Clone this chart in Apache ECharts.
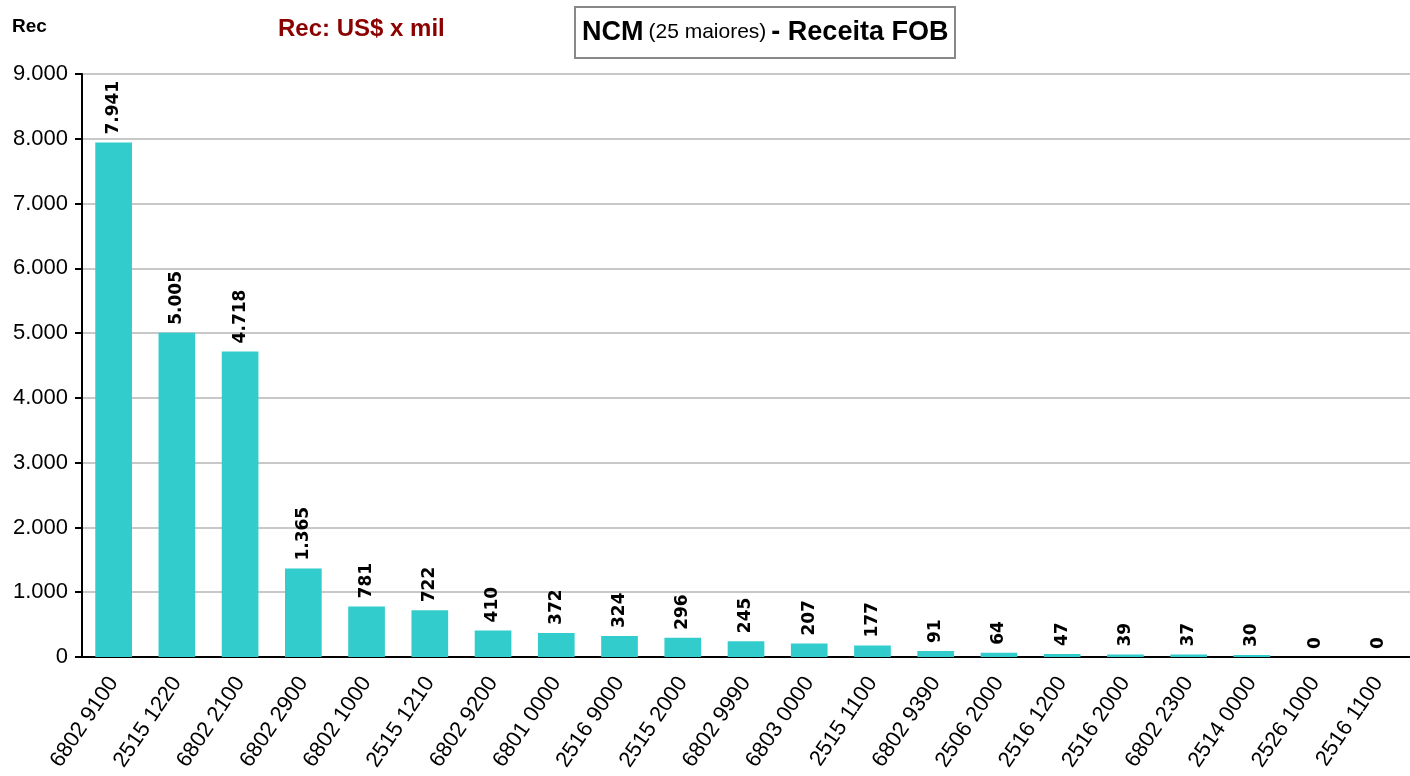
<!DOCTYPE html>
<html>
<head>
<meta charset="utf-8">
<script src="https://cdn.jsdelivr.net/npm/echarts@6/dist/echarts.min.js"></script>
<style>
  html, body { margin: 0; padding: 0; background: #fff; }
  #chart { width: 1410px; height: 776px; }
</style>
</head>
<body>
<div id="chart"></div>
<script>
// codigos NCM e receita (US$ x mil)
const categorias = ['6802 9100', '2515 1220', '6802 2100', '6802 2900', '6802 1000', '2515 1210',
  '6802 9200', '6801 0000', '2516 9000', '2515 2000', '6802 9990', '6803 0000', '2515 1100',
  '6802 9390', '2506 2000', '2516 1200', '2516 2000', '6802 2300', '2514 0000', '2526 1000', '2516 1100']
const receita = [7941, 5005, 4718, 1365, 781, 722, 410, 372, 324, 296, 245, 207, 177, 91, 64, 47, 39, 37, 30, 0, 0]
const yTicks = [0, 1000, 2000, 3000, 4000, 5000, 6000, 7000, 8000, 9000]

// formato brasileiro: 7941 -> 7.941
const fmt = v => String(v).replace(/\B(?=(\d{3})+(?!\d))/g, '.')

const chart = echarts.init(document.getElementById('chart'))

const option = {
  animation: false,
  backgroundColor: '#fff',
  textStyle: { fontFamily: 'Liberation Sans' },
  title: {
    text: '{b|NCM} {n|(25 maiores)} {b|- Receita FOB}',
    left: 575,
    top: 7,
    borderColor: '#888',
    borderWidth: 2,
    padding: [12, 7, 12, 7],
    textStyle: {
      rich: {
        b: { fontSize: 27, fontWeight: 'bold', color: '#000', fontFamily: 'Liberation Sans' },
        n: { fontSize: 21, fontWeight: 'normal', color: '#000', fontFamily: 'Liberation Sans' }
      }
    }
  },
  graphic: [
    {
      type: 'text', left: 12, top: 17,
      style: { text: 'Rec', fontSize: 19, fontWeight: 'bold', fontFamily: 'Liberation Sans', fill: '#000' }
    },
    {
      type: 'text', left: 278, top: 17,
      style: { text: 'Rec: US$ x mil', fontSize: 24, fontWeight: 'bold', fontFamily: 'Liberation Sans', fill: '#8B0000' }
    }
  ],
  grid: { left: 82, right: 0, top: 74, bottom: 119 },
  xAxis: {
    type: 'category',
    data: categorias,
    axisLine: { lineStyle: { color: '#000', width: 2 } },
    axisTick: { length: 7, lineStyle: { color: '#000', width: 2 } },
    axisLabel: {
      interval: 0,
      rotate: 56,
      margin: 22,
      fontSize: 22,
      color: '#000',
      fontFamily: 'Liberation Sans'
    }
  },
  yAxis: {
    type: 'value',
    min: 0,
    max: 9000,
    interval: 1000,
    axisLine: { show: true, lineStyle: { color: '#000', width: 2 } },
    axisTick: { show: true, length: 7, lineStyle: { color: '#000', width: 2 } },
    axisLabel: {
      fontSize: 22,
      color: '#000',
      margin: 14,
      fontFamily: 'Liberation Sans',
      formatter: v => yTicks.includes(v) ? fmt(v) : ''
    },
    splitLine: { lineStyle: { color: '#c8c8c8', width: 2 } }
  },
  series: [{
    type: 'bar',
    data: receita,
    barCategoryGap: '42%',
    itemStyle: { color: '#33CCCC' },
    label: {
      show: true,
      position: 'top',
      rotate: 90,
      align: 'left',
      verticalAlign: 'middle',
      distance: 8,
      fontSize: 17,
      fontWeight: 'bold',
      color: '#000',
      fontFamily: 'DejaVu Sans',
      formatter: p => fmt(p.value)
    }
  }]
}

chart.setOption(option)
</script>
</body>
</html>
